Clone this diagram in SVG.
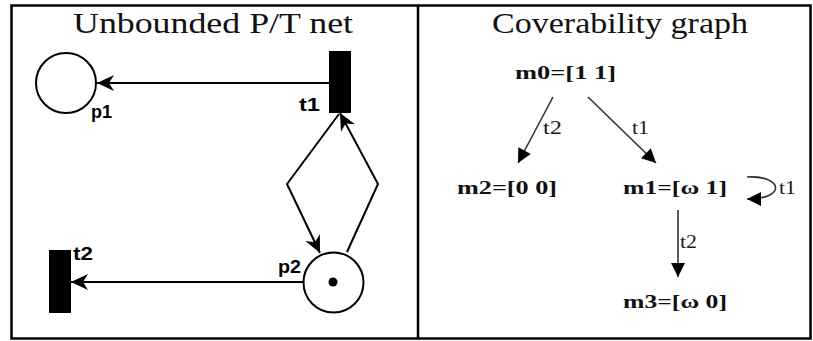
<svg xmlns="http://www.w3.org/2000/svg" width="813" height="341" viewBox="0 0 813 341">
<style>
.title{font-family:"Liberation Serif","Times New Roman",serif;font-size:30px;fill:#111}
.lab{font-family:"Liberation Sans",Arial,sans-serif;font-weight:bold;font-size:18px;fill:#000}
.mk{font-family:"Liberation Serif","Times New Roman",serif;font-weight:bold;font-size:19px;fill:#111}
.el{font-family:"Liberation Serif","Times New Roman",serif;font-size:18px;fill:#1a1a1a}
.arc{fill:none;stroke:#000;stroke-width:2}
.garc{fill:none;stroke:#333;stroke-width:1.6}
.place{fill:#fff;stroke:#000;stroke-width:2}
.trans{fill:#000}
</style>
<defs>
<marker id="pn" markerUnits="userSpaceOnUse" viewBox="-18 -9 19 18" markerWidth="19" markerHeight="18" refX="0" refY="0" orient="auto">
<path d="M0,0 L-17,-8 L-12,0 L-17,8 Z" fill="#000"/>
</marker>
<marker id="cg" markerUnits="userSpaceOnUse" viewBox="-15 -8 16 16" markerWidth="16" markerHeight="16" refX="0" refY="0" orient="auto">
<path d="M0,0 L-14,-7 L-14,7 Z" fill="#000"/>
</marker>
</defs>
<rect x="11.5" y="5.5" width="799" height="333" fill="#fff" stroke="#000" stroke-width="2.5"/>
<line x1="418" y1="5" x2="418" y2="339" stroke="#000" stroke-width="2.5"/>
<text class="title" x="73" y="33" textLength="280" lengthAdjust="spacingAndGlyphs">Unbounded P/T net</text>
<text class="title" x="492" y="33" textLength="256" lengthAdjust="spacingAndGlyphs">Coverability graph</text>

<g id="connectors">
<line class="arc" x1="329" y1="83" x2="97" y2="83" marker-end="url(#pn)"/>
<line class="arc" x1="303" y1="282" x2="71" y2="282" marker-end="url(#pn)"/>
<polyline class="arc" points="339,114 287,184 320,253" marker-end="url(#pn)"/>
<polyline class="arc" points="347,252 378,184 340,113" marker-end="url(#pn)"/>
<line class="garc" x1="553" y1="97" x2="518" y2="163" marker-end="url(#cg)"/>
<line class="garc" x1="588" y1="97" x2="656" y2="163" marker-end="url(#cg)"/>
<line class="garc" x1="678" y1="210" x2="678" y2="277" marker-end="url(#cg)"/>
<path class="garc" d="M747,177 C782,175 788,199 747,199" marker-end="url(#cg)"/>
<text class="el" x="543" y="134" textLength="19" lengthAdjust="spacingAndGlyphs">t2</text>
<text class="el" x="632" y="134" textLength="17" lengthAdjust="spacingAndGlyphs">t1</text>
<text class="el" x="680" y="248" textLength="17" lengthAdjust="spacingAndGlyphs">t2</text>
<text class="el" x="779" y="194" textLength="17" lengthAdjust="spacingAndGlyphs">t1</text>
</g>

<g id="p1">
<circle class="place" cx="66" cy="83" r="30"/>
<text class="lab" x="91" y="118" textLength="21" lengthAdjust="spacingAndGlyphs">p1</text>
</g>
<g id="t1">
<rect class="trans" x="329" y="51" width="22" height="62"/>
<text class="lab" x="299" y="111" textLength="21" lengthAdjust="spacingAndGlyphs">t1</text>
</g>
<g id="p2">
<circle class="place" cx="333.5" cy="282.5" r="30"/>
<circle cx="333" cy="282" r="4.5" fill="#000"/>
<text class="lab" x="278" y="273" textLength="23" lengthAdjust="spacingAndGlyphs">p2</text>
</g>
<g id="t2">
<rect class="trans" x="49" y="250" width="22" height="63"/>
<text class="lab" x="73" y="260" textLength="20" lengthAdjust="spacingAndGlyphs">t2</text>
</g>

<g id="m0"><text class="mk" x="515" y="79" textLength="101" lengthAdjust="spacingAndGlyphs">m0=[1 1]</text></g>
<g id="m2"><text class="mk" x="457" y="194" textLength="100" lengthAdjust="spacingAndGlyphs">m2=[0 0]</text></g>
<g id="m1"><text class="mk" x="623" y="194" textLength="104" lengthAdjust="spacingAndGlyphs">m1=[ω 1]</text></g>
<g id="m3"><text class="mk" x="623" y="308" textLength="104" lengthAdjust="spacingAndGlyphs">m3=[ω 0]</text></g>
</svg>
